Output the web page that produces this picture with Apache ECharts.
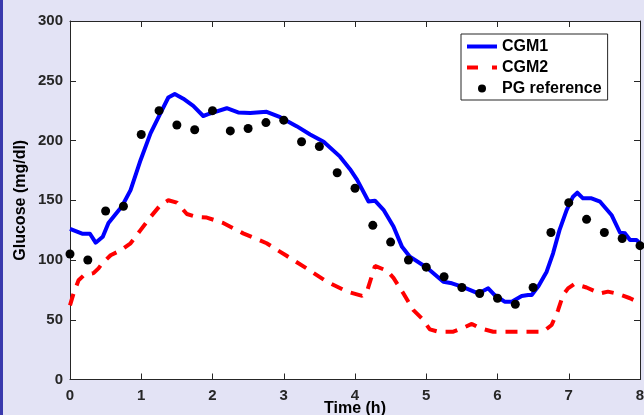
<!DOCTYPE html>
<html>
<head>
<meta charset="utf-8">
<script src="https://cdn.jsdelivr.net/npm/echarts@6/dist/echarts.min.js"></script>
<style>
html,body{margin:0;padding:0;background:#e3e3f5;}
#chart{width:644px;height:415px;}
</style>
</head>
<body>
<div id="chart"></div>
<script>
// ---- data ----
const xTicks = [0,1,2,3,4,5,6,7,8];
const yTicks = [0,50,100,150,200,250,300];

const cgm1Time = [0.00,0.17,0.28,0.36,0.46,0.54,0.73,0.85,0.99,1.13,1.27,1.38,1.47,1.59,1.73,1.87,1.94,2.20,2.36,2.53,2.76,2.95,3.18,3.37,3.56,3.79,3.93,4.03,4.19,4.28,4.40,4.54,4.66,4.77,5.01,5.24,5.36,5.50,5.73,5.87,5.96,6.10,6.20,6.34,6.43,6.48,6.57,6.69,6.78,6.87,6.97,7.06,7.12,7.20,7.32,7.44,7.60,7.72,7.79,7.86,7.95,8.00];
const cgm1Values = [126,122,122,114.5,119.5,131,145,158.5,183.5,206,223,236,239,235,229,220.5,222,227,223.5,223,224,219.5,212,205,199,186.5,176,167,149,149.6,142,128,111,102.8,93.5,81.8,80.5,77.7,72,76.3,70.7,65.1,65.1,69.9,70.7,70.7,77.7,90.2,105.6,125,141.8,153,156.3,151.6,151.6,148.8,137.7,122.8,122.3,116.7,116.7,114];

const cgm2Time = [0.00,0.05,0.12,0.19,0.33,0.40,0.45,0.57,0.71,0.85,0.99,1.13,1.27,1.38,1.50,1.64,1.78,1.92,2.15,2.43,2.76,3.04,3.32,3.60,3.89,4.10,4.17,4.28,4.45,4.54,4.68,4.82,4.94,5.05,5.17,5.38,5.50,5.64,5.75,5.94,6.64,6.76,6.85,6.92,6.99,7.08,7.25,7.44,7.55,7.67,7.86,8.00];
const cgm2Values = [62,72,83,87,89,93,97,104,108,114,125,136,146,150,148,138.5,136,135.5,131,122.3,114,103.5,93,82,73.5,70,74,95,91,85,72,58,51,42,40,40,42.8,46.5,43,40,40,45.6,58,70.7,76.3,80,77,72,73.5,72,68,64];

const pgTime = [0,0.25,0.5,0.75,1,1.25,1.5,1.75,2,2.25,2.5,2.75,3,3.25,3.5,3.75,4,4.25,4.5,4.75,5,5.25,5.5,5.75,6,6.25,6.5,6.75,7,7.25,7.5,7.75,8];
const pgValues = [105,100,141,145,205,225,213,209,225,208,210,215,217,199,195,173,160,129,115,100,94,86,77,72,68,63,77,123,148,134,123,118,112];

const seriesNames = ['CGM1','CGM2','PG reference'];
const xName = 'Time (h)';
const yName = 'Glucose (mg/dl)';

function zip(a,b){return a.map((v,i)=>[v,b[i]]);}

const chart = echarts.init(document.getElementById('chart'), null, {renderer:'canvas'});
const axisColor = '#262626';
const font = 'Liberation Sans, Arial, sans-serif';

const hiddenAxisBase = {
  type:'value', min:0, splitLine:{show:false},
  axisLine:{show:true, onZero:false, lineStyle:{color:axisColor,width:1}},
  axisTick:{show:true, inside:true, length:6, lineStyle:{color:axisColor}},
  axisLabel:{show:false}
};

chart.setOption({
  backgroundColor:'#e3e3f5',
  animation:false,
  graphic:[{type:'rect', left:0, top:0, shape:{width:3,height:415}, style:{fill:'#3a3aad'}, silent:true}],
  grid:{left:70, right:4, top:21, bottom:35.5, containLabel:false, outerBoundsMode:'none',
        show:true, backgroundColor:'#ffffff', borderWidth:0},
  legend:{
    data:[
      {name:seriesNames[0], itemStyle:{opacity:0}, lineStyle:{width:4}},
      {name:seriesNames[1], itemStyle:{opacity:0}, lineStyle:{width:4, type:[11,14]}},
      {name:seriesNames[2]}
    ],
    orient:'vertical', left:461, top:34,
    backgroundColor:'#ffffff', borderColor:axisColor, borderWidth:1,
    padding:[4,6,3,4], itemGap:4, itemWidth:30, itemHeight:10,
    textStyle:{fontFamily:font, fontWeight:'bold', fontSize:16, color:'#000', lineHeight:17}
  },
  xAxis:[
    {type:'value', min:xTicks[0], max:xTicks[xTicks.length-1], interval:1, position:'bottom',
     name:xName, nameLocation:'middle', nameGap:21, nameMoveOverlap:false,
     nameTextStyle:{fontFamily:font, fontWeight:'bold', fontSize:16, color:'#000'},
     splitLine:{show:false},
     axisLine:{show:true, onZero:false, lineStyle:{color:axisColor,width:1}},
     axisTick:{show:true, inside:true, length:6, lineStyle:{color:axisColor}},
     axisLabel:{show:true, margin:9, fontFamily:font, fontWeight:'bold', fontSize:15, color:axisColor}
    },
    Object.assign({}, hiddenAxisBase, {position:'top', max:8, interval:1})
  ],
  yAxis:[
    {type:'value', min:yTicks[0], max:yTicks[yTicks.length-1], interval:50, position:'left',
     name:yName, nameLocation:'middle', nameGap:41, nameMoveOverlap:false,
     nameTextStyle:{fontFamily:font, fontWeight:'bold', fontSize:16, color:'#000'},
     splitLine:{show:false},
     axisLine:{show:true, onZero:false, lineStyle:{color:axisColor,width:1}},
     axisTick:{show:true, inside:true, length:6, lineStyle:{color:axisColor}},
     axisLabel:{show:true, margin:7, fontFamily:font, fontWeight:'bold', fontSize:15, color:axisColor}
    },
    Object.assign({}, hiddenAxisBase, {position:'right', max:300, interval:50})
  ],
  series:[
    {name:seriesNames[0], type:'line', data:zip(cgm1Time,cgm1Values), symbol:'none', smooth:false,
     lineStyle:{color:'#0000ff', width:4, join:'round'}, itemStyle:{color:'#0000ff'}, z:2},
    {name:seriesNames[1], type:'line', data:zip(cgm2Time,cgm2Values), symbol:'none', smooth:false,
     lineStyle:{color:'#ff0000', width:4, type:[12,9], cap:'butt'}, itemStyle:{color:'#ff0000'}, z:3},
    {name:seriesNames[2], type:'line', data:zip(pgTime,pgValues), symbol:'circle', symbolSize:9, showSymbol:true,
     lineStyle:{opacity:0, width:0}, itemStyle:{color:'#000000'}, z:4}
  ]
});
</script>
</body>
</html>
